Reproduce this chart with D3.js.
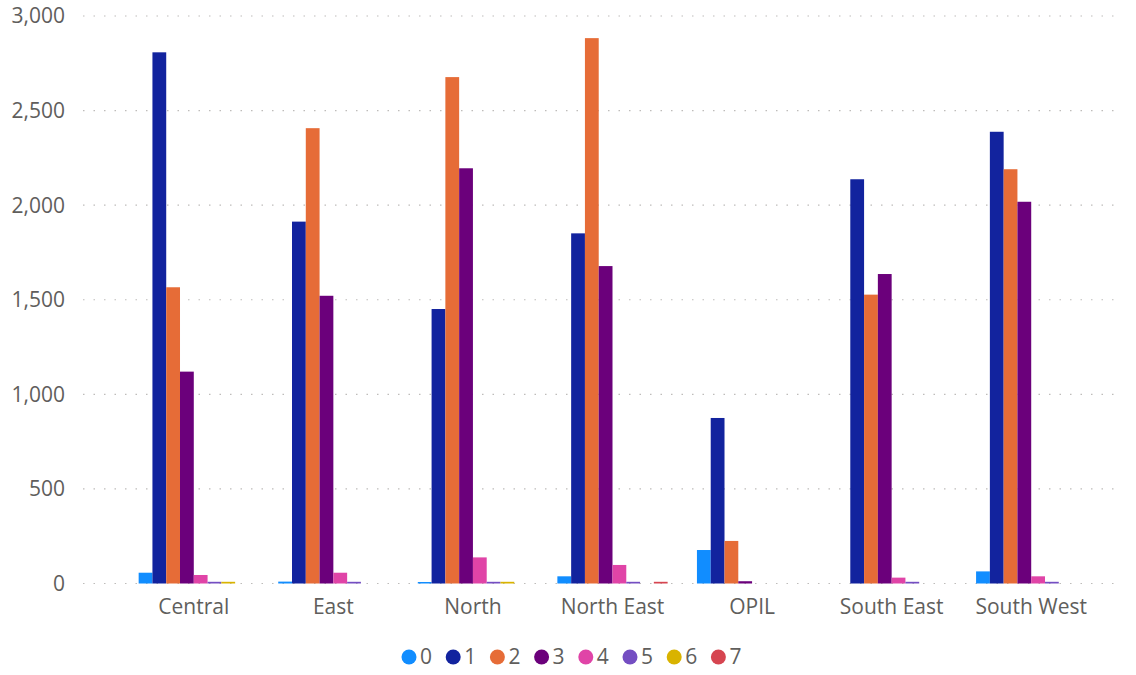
<!DOCTYPE html>
<html>
<head>
<meta charset="utf-8">
<script src="https://cdn.jsdelivr.net/npm/d3@7"></script>
<style>
  body { margin: 0; background: #fff; }
  text { font-family: "Open Sans", "Noto Sans", sans-serif; fill: #605E5C; }
</style>
</head>
<body>
<script>
// regions along the x axis
const categories = ['Central', 'East', 'North', 'North East', 'OPIL', 'South East', 'South West'];

// series keys shown in the legend
const seriesKeys = ['0', '1', '2', '3', '4', '5', '6', '7'];

// values per series, one entry per region (null = no bar)
const s0 = [57, 10, 8, 38, 177, null, 64];
const s1 = [2808, 1913, 1451, 1851, 875, 2137, 2388];
const s2 = [1566, 2407, 2677, 2883, 225, 1527, 2190];
const s3 = [1120, 1521, 2195, 1678, 12, 1636, 2018];
const s4 = [45, 57, 138, 98, null, 31, 38];
const s5 = [9, 9, 9, 9, null, 9, 9];
const s6 = [9, null, 9, null, null, null, null];
const s7 = [null, null, null, 9, null, null, null];

const yTicks = [0, 500, 1000, 1500, 2000, 2500, 3000];

const colors = ['#118DFF', '#12239E', '#E66C37', '#6B007B', '#E044A7', '#744EC2', '#D9B300', '#D64550'];

const seriesValues = [s0, s1, s2, s3, s4, s5, s6, s7];

// flatten into rows the scales can use
const rows = [];
categories.forEach((c, i) => {
  seriesKeys.forEach((k, j) => {
    if (seriesValues[j][i] != null) rows.push({ cat: c, key: k, value: seriesValues[j][i], color: colors[j] });
  });
});

const width = 1136;
const height = 675;

const svg = d3.select('body')
  .append('svg')
  .attr('width', width)
  .attr('height', height);

// scales
const x0 = d3.scaleBand()
  .domain(categories)
  .range([124, 1101])
  .paddingInner(0.21)
  .paddingOuter(0.105);

const x1 = d3.scaleBand()
  .domain(seriesKeys)
  .range([0, x0.bandwidth()]);

const y = d3.scaleLinear()
  .domain([0, 3000])
  .range([583.5, 16]);

// dotted gridlines
svg.append('g')
  .selectAll('line')
  .data(yTicks)
  .enter()
  .append('line')
  .attr('x1', 83)
  .attr('x2', 1120)
  .attr('y1', d => y(d))
  .attr('y2', d => y(d))
  .attr('stroke', '#BEBCBA')
  .attr('stroke-width', 1.2)
  .attr('stroke-dasharray', '1.5,9');

// y axis labels
svg.append('g')
  .selectAll('text')
  .data(yTicks)
  .enter()
  .append('text')
  .attr('x', 65)
  .attr('y', d => y(d))
  .attr('dy', '0.35em')
  .attr('text-anchor', 'end')
  .style('font-size', '21px')
  .text(d => d3.format(',')(d));

// bars
svg.append('g')
  .selectAll('rect')
  .data(rows)
  .enter()
  .append('rect')
  .attr('x', d => x0(d.cat) + x1(d.key))
  .attr('y', d => y(d.value))
  .attr('width', x1.bandwidth())
  .attr('height', d => y(0) - y(d.value))
  .attr('fill', d => d.color);

// x axis labels
svg.append('g')
  .selectAll('text')
  .data(categories)
  .enter()
  .append('text')
  .attr('x', d => x0(d) + x0.bandwidth() / 2)
  .attr('y', 614)
  .attr('text-anchor', 'middle')
  .style('font-size', '21px')
  .text(d => d);

// legend
const legend = svg.append('g')
  .selectAll('g')
  .data(seriesKeys)
  .enter()
  .append('g')
  .attr('transform', (d, i) => `translate(${409 + i * 44.2}, 657)`);

legend.append('circle')
  .attr('r', 7.5)
  .attr('fill', (d, i) => colors[i]);

legend.append('text')
  .attr('x', 11)
  .attr('dy', '0.35em')
  .style('font-size', '21px')
  .text(d => d);
</script>
</body>
</html>
